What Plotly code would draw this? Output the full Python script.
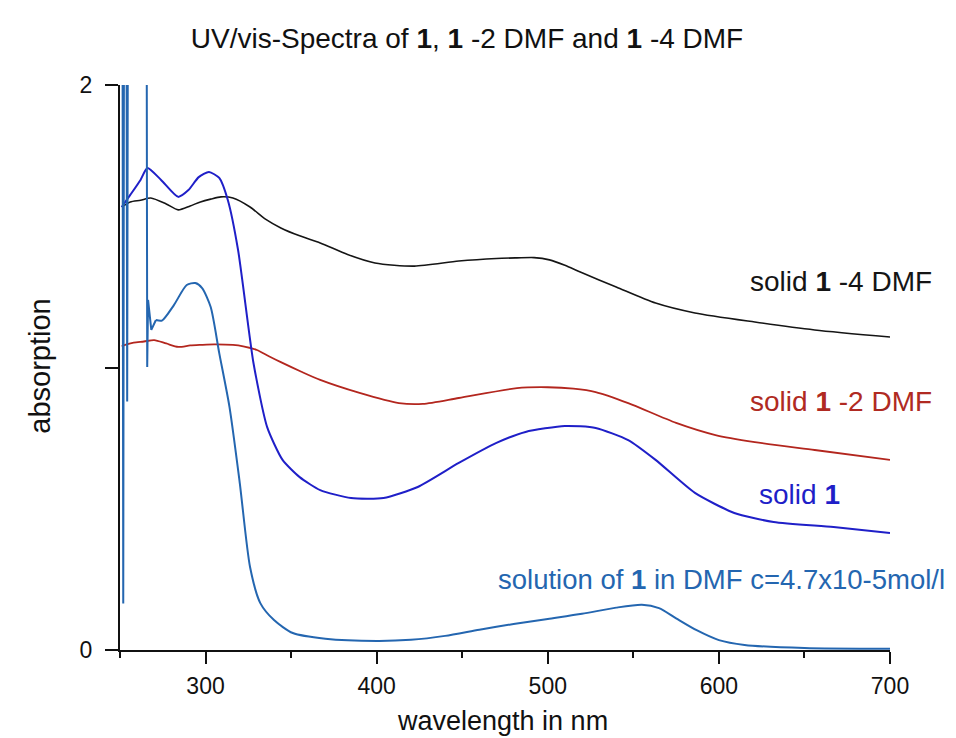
import plotly.graph_objects as go

FONT = "Liberation Sans, Arial, sans-serif"

# solid 1-4 DMF (black)
wl_4dmf = [251, 256, 262, 268, 277, 284, 291, 297, 303, 309, 316, 326, 335, 344, 355, 367, 383, 399,
           422, 448, 470, 482, 492, 501, 510, 519, 540, 563, 586, 621, 656, 700]
abs_4dmf = [1.568, 1.586, 1.592, 1.600, 1.579, 1.558, 1.572, 1.586, 1.596, 1.604, 1.600, 1.568, 1.525,
            1.494, 1.466, 1.441, 1.400, 1.370, 1.359, 1.377, 1.386, 1.388, 1.389, 1.381, 1.362, 1.338,
            1.285, 1.228, 1.193, 1.161, 1.133, 1.108]

# solid 1-2 DMF (red)
wl_2dmf = [251, 253, 258, 264, 270, 277, 284, 291, 297, 305, 316, 322, 330, 337, 344, 356, 367, 390,
           413, 427, 448, 482, 500, 515, 528, 547, 575, 598, 621, 656, 700]
abs_2dmf = [1.075, 1.080, 1.088, 1.092, 1.097, 1.085, 1.073, 1.078, 1.080, 1.082, 1.080, 1.075, 1.062,
            1.040, 1.019, 0.985, 0.956, 0.910, 0.874, 0.871, 0.892, 0.927, 0.930, 0.925, 0.913, 0.874,
            0.804, 0.761, 0.736, 0.708, 0.673]

# solid 1 (blue)
wl_solid = [251, 256, 262, 266, 274, 284, 290, 296, 302, 308, 313, 319, 328, 336, 345, 355, 367, 385,
            404, 424, 448, 470, 487, 510, 528, 547, 563, 586, 609, 632, 667, 700]
abs_solid = [1.568, 1.611, 1.664, 1.706, 1.664, 1.604, 1.628, 1.674, 1.692, 1.671, 1.593, 1.416, 1.016,
             0.789, 0.673, 0.612, 0.566, 0.538, 0.538, 0.577, 0.662, 0.733, 0.772, 0.793, 0.786, 0.743,
             0.673, 0.556, 0.485, 0.453, 0.435, 0.414]

# solution of 1 in DMF (steel blue): off-scale spikes at the start
wl_sol_spikes = [251.4, 251.9, 252.4, 253.7, 254.2, 254.7, 265.5, 265.9, 266.4, 268.3, 271]
abs_sol_spikes = [2.6, 0.165, 2.6, 2.6, 0.88, 2.6, 2.6, 1.002, 1.239, 1.133, 1.168]
# solution of 1 in DMF: smooth part
wl_sol = [271, 274.5, 281.5, 289, 294, 298, 303, 308, 314, 320, 326, 332, 340, 351, 370, 400, 420, 440,
          460, 480, 500, 520, 540, 555, 565, 575, 587, 600, 615, 650, 700]
abs_sol = [1.168, 1.166, 1.221, 1.292, 1.299, 1.281, 1.214, 1.051, 0.860, 0.591, 0.294, 0.166, 0.106,
           0.060, 0.040, 0.032, 0.036, 0.050, 0.072, 0.092, 0.110, 0.128, 0.150, 0.160, 0.148, 0.112,
           0.070, 0.035, 0.018, 0.007, 0.004]

x_ticks = [300, 400, 500, 600, 700]
y_ticks = [0, 1, 2]
y_ticktext = ["0", "", "2"]

SOL_COLOR = "#2466b0"
fig = go.Figure()
fig.add_trace(go.Scatter(x=wl_4dmf, y=abs_4dmf, mode="lines",
                         line=dict(color="#151515", width=1.6, shape="spline", smoothing=0.7)))
fig.add_trace(go.Scatter(x=wl_2dmf, y=abs_2dmf, mode="lines",
                         line=dict(color="#b3261e", width=1.8, shape="spline", smoothing=0.7)))
fig.add_trace(go.Scatter(x=wl_solid, y=abs_solid, mode="lines",
                         line=dict(color="#1f1fc8", width=2, shape="spline", smoothing=0.6)))
fig.add_trace(go.Scatter(x=wl_sol_spikes, y=abs_sol_spikes, mode="lines",
                         line=dict(color=SOL_COLOR, width=2)))
fig.add_trace(go.Scatter(x=wl_sol, y=abs_sol, mode="lines",
                         line=dict(color=SOL_COLOR, width=2, shape="spline", smoothing=0.7)))

labels = [
    ("solid <b>1</b> -4 DMF", 671.4, 1.303, "#151515", 28),
    ("solid <b>1</b> -2 DMF", 671.4, 0.881, "#b02a22", 28),
    ("solid <b>1</b>", 646.9, 0.552, "#1f1fc8", 28),
    ("solution of <b>1</b> in DMF c=4.7x10-5mol/l", 601.3, 0.248, SOL_COLOR, 27.5),
]
annotations = []
for txt, x, y, c, s in labels:
    annotations.append(dict(text=txt, x=x, y=y, xref="x", yref="y", showarrow=False,
                            xanchor="center", yanchor="middle",
                            font=dict(family=FONT, size=s, color=c)))
annotations.append(dict(text="wavelength in nm", x=0.497, y=-0.126, xref="paper", yref="paper",
                        showarrow=False, xanchor="center", yanchor="middle",
                        font=dict(family=FONT, size=27, color="#111111")))
annotations.append(dict(text="absorption", x=-0.104, y=0.503, xref="paper", yref="paper",
                        showarrow=False, xanchor="center", yanchor="middle", textangle=-90,
                        font=dict(family=FONT, size=29, color="#111111")))

fig.update_layout(
    width=956, height=738,
    margin=dict(l=120, r=66, t=85, b=88),
    paper_bgcolor="white", plot_bgcolor="white",
    showlegend=False,
    title=dict(text="UV/vis-Spectra of <b>1</b>, <b>1</b> -2 DMF and <b>1</b> -4 DMF",
               x=467 / 956, xref="container", xanchor="center",
               y=1 - 38 / 738, yref="container", yanchor="middle",
               font=dict(family=FONT, size=28, color="#111111")),
    annotations=annotations,
    xaxis=dict(range=[250, 700], showgrid=False, zeroline=False, showline=True,
               linecolor="#111111", linewidth=2, ticks="outside", ticklen=12, tickwidth=2,
               tickcolor="#111111", tickvals=x_ticks, ticklabelstandoff=2,
               minor=dict(dtick=50, tick0=250, ticks="outside", ticklen=6, tickwidth=1.5,
                          tickcolor="#111111"),
               tickfont=dict(family=FONT, size=23, color="#111111")),
    yaxis=dict(range=[0, 2], showgrid=False, zeroline=False, showline=True,
               linecolor="#111111", linewidth=2, ticks="outside", ticklen=13, tickwidth=2,
               tickcolor="#111111", tickvals=y_ticks, ticktext=y_ticktext, ticklabelstandoff=8,
               tickfont=dict(family=FONT, size=23, color="#111111")),
)

fig.write_html("out.html")
